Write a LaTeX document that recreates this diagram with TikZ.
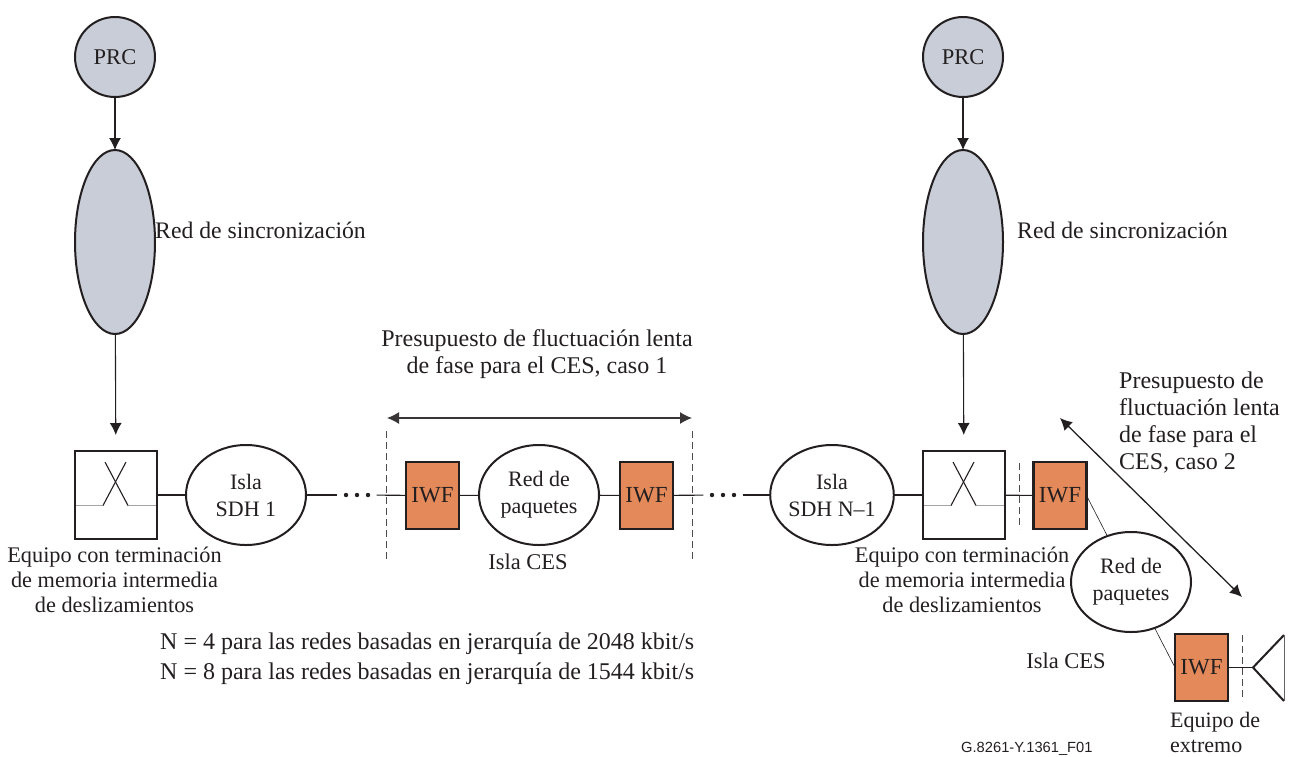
\documentclass[tikz,border=0pt]{standalone}
\usepackage{fontspec}
\setmainfont{Liberation Serif}
\newfontfamily\labelsans{Liberation Sans}
\usetikzlibrary{shapes.geometric,arrows.meta}
\definecolor{ink}{RGB}{35,31,32}
\definecolor{syncgrey}{RGB}{200,205,215}
\definecolor{iwforange}{RGB}{228,138,90}
\definecolor{wiregrey}{RGB}{165,165,165}
\tikzset{
  prc/.style={circle,draw=ink,line width=2pt,fill=syncgrey,minimum size=80pt,inner sep=0pt,outer sep=0pt,font=\fontsize{22.5}{27}\selectfont},
  syncnet/.style={ellipse,draw=ink,line width=2pt,fill=syncgrey,minimum width=80pt,minimum height=184pt,inner sep=0pt,outer sep=0pt},
  island/.style={ellipse,draw=ink,line width=2pt,fill=white,minimum width=120pt,minimum height=100pt,inner sep=0pt,outer sep=0pt,align=center,font=\fontsize{22}{27}\selectfont},
  iwf/.style={rectangle,draw=ink,line width=2.2pt,fill=iwforange,minimum width=53pt,minimum height=67pt,inner sep=0pt,outer sep=0pt,font=\fontsize{23}{27}\selectfont},
  slipbox/.style={rectangle,draw=ink,line width=2pt,minimum width=82pt,minimum height=88pt,inner sep=0pt,outer sep=0pt},
  txt/.style={inner sep=0pt,align=center},
  txtl/.style={inner sep=0pt,align=left},
  dotgap/.style={inner sep=0pt,minimum width=39pt,minimum height=6pt},
  bound/.style={ink!80,line width=0.7pt,dashed,dash pattern=on 7pt off 4pt},
  link/.style={ink,line width=1.1pt},
}
\begin{document}
\begin{tikzpicture}[x=1pt,y=-1pt,font=\fontsize{24}{27.5}\selectfont,text=ink]
\useasboundingbox (0,0) rectangle (1289,756);
% sincronizacion
\foreach \dx/\nm in {0/a,848/b} {
  \node[prc] (prc\nm) at (115+\dx,57) {PRC};
  \node[syncnet] (sync\nm) at (115+\dx,242) {};
  \node[slipbox] (slip\nm) at (116+\dx,495) {};
  \draw [link,->,>={Latex[length=12pt,width=12pt]}] (prc\nm)--(sync\nm);
  \draw [link,->,>={Latex[length=12pt,width=12pt]},shorten >=16pt] (sync\nm)--(slip\nm);
  \draw [wiregrey,line width=1.1pt] (76+\dx,505.5)--(103+\dx,505.5);
  \draw [wiregrey,line width=1.1pt] (128+\dx,505.5)--(156+\dx,505.5);
  \draw [link] (103+\dx,505.5)--(126+\dx,462);
  \draw [link] (128+\dx,505.5)--(105+\dx,462);
}
\node[txt,anchor=west,font=\fontsize{23.7}{27}\selectfont] (syncta) at (155,230) {Red de sincronización};
\node[txt,anchor=west,font=\fontsize{23.7}{27}\selectfont] (synctb) at (1017,230) {Red de sincronización};
% cadena principal
\node[island] (sdha) at (246,495) {Isla\\SDH 1};
\node[dotgap] (dotsa) at (357,495) {};
\node[iwf] (iwfa) at (432.5,495.5) {IWF};
\node[island] (reda) at (539,495) {Red de\\paquetes};
\node[iwf] (iwfb) at (646.5,495.5) {IWF};
\node[dotgap] (dotsb) at (723,495) {};
\node[island] (sdhb) at (832,495) {Isla\\SDH N--1};
\node[iwf] (iwfc) at (1060,495.5) {IWF};
\node[island] (redb) at (1131,582) {Red de\\paquetes};
\node[iwf] (iwfd) at (1201.5,667.5) {IWF};
\coordinate (horn) at (1253,667.5);
\foreach \nm in {dotsa,dotsb} {
  \foreach \ox in {-11,0,11} \fill [ink] ([xshift=\ox pt]\nm.center) circle (2.2pt);
}
\draw [link] (slipa)--(sdha);
\draw [link] (sdha)--(dotsa);
\draw [link] (dotsa)--(iwfa);
\draw [link] (iwfa)--(reda);
\draw [link] (reda)--(iwfb);
\draw [link] (iwfb)--(dotsb);
\draw [link] (dotsb)--(sdhb);
\draw [link] (sdhb)--(slipb);
\draw [link] (slipb)--(iwfc);
\draw [ink,line width=0.6pt] (iwfc.east)--(redb);
\draw [ink,line width=0.6pt] (redb)--(iwfd.west);
\draw [link] (iwfd)--(horn);
% equipo de extremo
\draw [ink,line width=2pt] (1284,635)--(horn)--(1284,701);
\draw [ink!70,line width=1pt] (1284,635)--(1284,701);
% limites
\coordinate (dlat) at (386.5,431);
\coordinate (dlab) at (386.5,560);
\coordinate (dlct) at (692,431);
\coordinate (dlcb) at (692,560);
\coordinate (dldt) at (1019,463);
\coordinate (dldb) at (1019,529);
\coordinate (dlet) at (1242,635);
\coordinate (dleb) at (1242,701);
\draw [bound] (dlat)--(dlab);
\draw [bound] (dlct)--(dlcb);
\draw [bound] (dldt)--(dldb);
\draw [bound] (dlet)--(dleb);
% presupuestos
\coordinate (spana) at (387,418);
\coordinate (spanb) at (692,418);
\coordinate (spanc) at (1060,418);
\coordinate (spand) at (1242,597);
\draw [ink!90,line width=1.3pt,<->,>={Latex[length=12pt,width=12pt]}] (spana)--(spanb);
\draw [ink,line width=1.3pt,<->,>={Latex[length=12pt,width=12pt]}] (spanc)--(spand);
\node[txt] (budga) at (537,354) {Presupuesto de fluctuación lenta\\de fase para el CES, caso 1};
\node[txtl,anchor=north west,font=\fontsize{24}{27}\selectfont] (budgb) at (1119,372) {Presupuesto de\\fluctuación lenta\\de fase para el\\CES, caso 2};
% rotulos
\node[txt,font=\fontsize{22.3}{25}\selectfont] (eqa) at (114.5,580) {Equipo con terminación\\de memoria intermedia\\de deslizamientos};
\node[txt,font=\fontsize{22.3}{25}\selectfont] (eqb) at (962,580) {Equipo con terminación\\de memoria intermedia\\de deslizamientos};
\node[txt,font=\fontsize{22.5}{25}\selectfont] (cesa) at (528,562) {Isla CES};
\node[txt,font=\fontsize{22.5}{25}\selectfont] (cesb) at (1066,661) {Isla CES};
\node[txtl,anchor=north west,font=\fontsize{24}{30}\selectfont] (nnote) at (160,633) {N = 4 para las redes basadas en jerarquía de 2048 kbit/s\\N = 8 para las redes basadas en jerarquía de 1544 kbit/s};
\node[txtl,anchor=north west,font=\fontsize{22}{25}\selectfont] (eqc) at (1170,712) {Equipo de\\extremo};
\node[txt,anchor=west,font=\labelsans\fontsize{14.7}{18}\selectfont] (code) at (961,749) {G.8261-Y.1361\_F01};
\end{tikzpicture}
\end{document}
